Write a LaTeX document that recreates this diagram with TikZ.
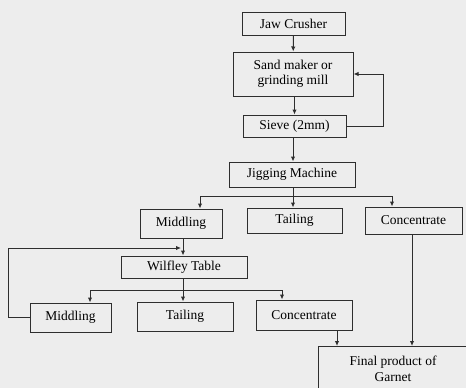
\documentclass[tikz,border=0pt]{standalone}
\usepackage{fontspec}
\setmainfont{Liberation Serif}
\usetikzlibrary{arrows.meta}
\definecolor{bg}{HTML}{EDEDED}
\definecolor{ln}{HTML}{2E2E2E}
\tikzset{
  box/.style={draw=ln, line width=1pt, fill=bg, inner sep=0pt, align=center,
    font=\fontsize{13.5}{15.5}\selectfont, text=black},
  conn/.style={draw=ln, line width=1pt},
  arr/.style={conn, -{Latex[length=5pt,width=4.5pt]}},
}
\begin{document}
\begin{tikzpicture}[x=1pt,y=-1pt]
\useasboundingbox (0,0) rectangle (466,388);
\fill[bg] (0,0) rectangle (466,388);
\node[box, minimum width=103pt, minimum height=23pt] (jaw) at (293.5,23.5) {Jaw Crusher};
\node[box, minimum width=120pt, minimum height=44pt] (sand) at (293,74) {Sand maker or\\grinding mill};
\node[box, minimum width=103pt, minimum height=22pt] (sieve) at (294.5,126) {Sieve (2mm)};
\node[box, minimum width=126pt, minimum height=25pt] (jig) at (292,174.5) {Jigging Machine};
\node[box, minimum width=82pt, minimum height=29pt] (mid1) at (181,223.5) {Middling};
\node[box, minimum width=95pt, minimum height=25pt] (tail1) at (294.5,220.5) {Tailing};
\node[box, minimum width=97pt, minimum height=27pt] (conc1) at (413.5,220.5) {Concentrate};
\node[box, minimum width=126pt, minimum height=22pt] (wil) at (184,267) {Wilfley Table};
\node[box, minimum width=81pt, minimum height=29pt] (mid2) at (70.5,317.5) {Middling};
\node[box, minimum width=96pt, minimum height=29pt] (tail2) at (185,316.5) {Tailing};
\node[box, minimum width=96pt, minimum height=30pt] (conc2) at (304,315) {Concentrate};
\begin{scope}
\clip (0,0) rectangle (466,388);
\node[box, minimum width=170pt, minimum height=80pt, anchor=north west] (final) at (318,346) {};
\end{scope}
\node[font=\fontsize{13.5}{16}\selectfont, text=black, align=center] (finaltext) at (393,369) {Final product of\\Garnet};
% coordinates
\coordinate (fb) at (383,126);
\coordinate (fbt) at (383,74);
\coordinate (b1) at (293,196);
\coordinate (b1l) at (200,196);
\coordinate (b1r) at (392,196);
\coordinate (lp) at (8,248);
\coordinate (lpe) at (181,248);
\coordinate (b2) at (183,290);
\coordinate (b2l) at (90,290);
\coordinate (b2r) at (282,290);
% connectors
\draw[arr] (jaw) -- (sand);
\draw[arr] (sand.south -| sieve.north) -- (sieve.north);
\draw[conn] (sieve.east) -- (fb) -- (fbt);
\draw[arr] (fbt) -- (sand.east);
\draw[arr] (sieve.south -| b1) -- (jig.north -| b1);
\draw[conn] (jig.south -| b1) -- (b1);
\draw[conn] (b1l) -- (b1r);
\draw[arr] (b1l) -- (b1l |- mid1.north);
\draw[arr] (b1) -- (b1 |- tail1.north);
\draw[arr] (b1r) -- (b1r |- conc1.north);
\draw[arr] (mid1.south -| b2) -- (b2 |- wil.north);
\draw[conn] (mid2.west) -| (lp);
\draw[arr] (lp) -- (lpe);
\draw[conn] (wil.south -| b2) -- (b2);
\draw[conn] (b2l) -- (b2r);
\draw[arr] (b2l) -- (b2l |- mid2.north);
\draw[arr] (b2) -- (b2 |- tail2.north);
\draw[arr] (b2r) -- (b2r |- conc2.north);
\draw[arr] (conc2.south -| 337,0) -- (final.north -| 337,0);
\draw[arr] (conc1.south -| 412,0) -- (final.north -| 412,0);
\end{tikzpicture}
\end{document}
